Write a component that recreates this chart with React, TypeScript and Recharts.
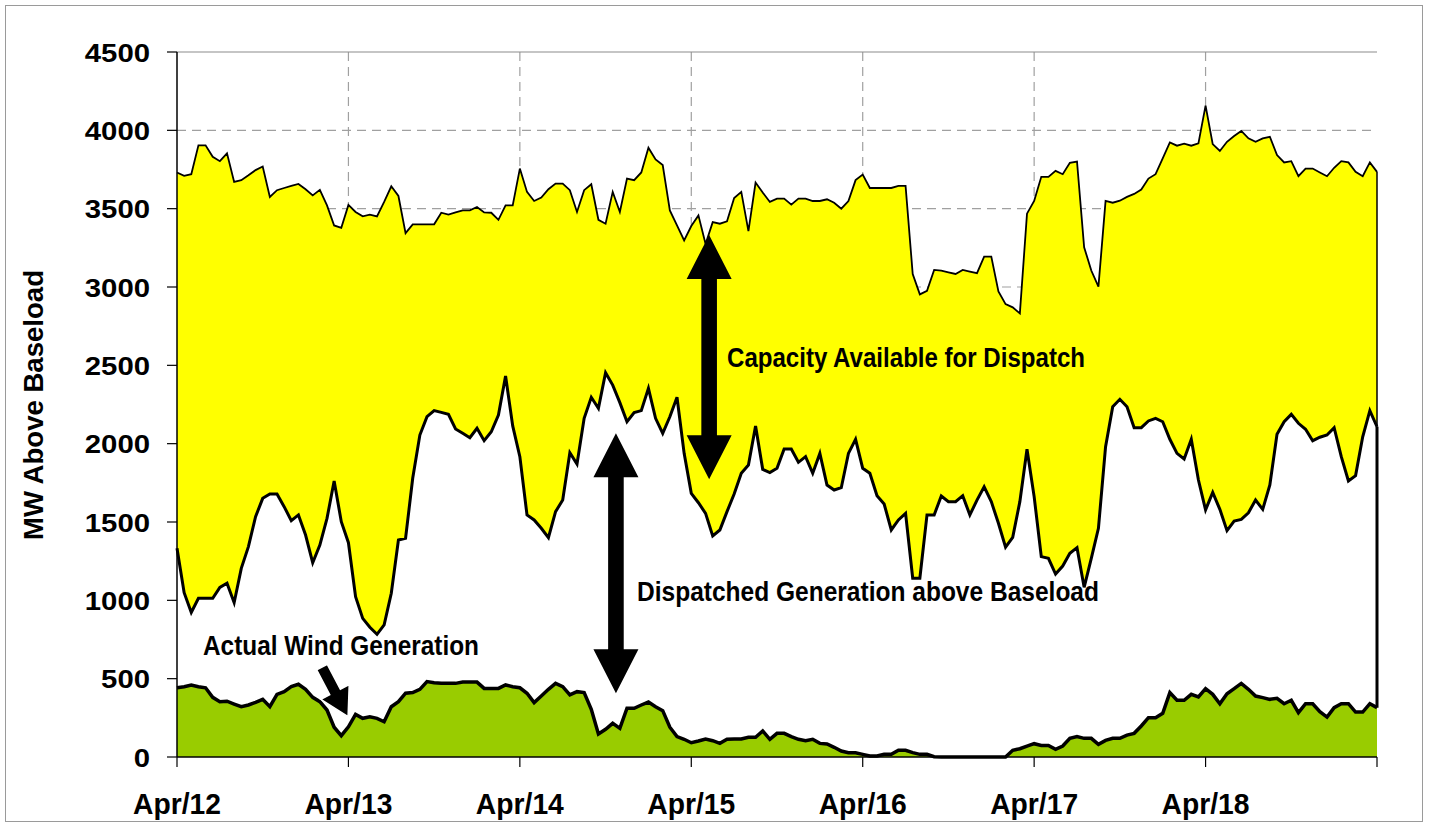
import React from "react";
import {
  AreaChart,
  Area,
  XAxis,
  YAxis,
  CartesianGrid,
  ReferenceLine,
} from "recharts";

// Hourly values, Apr 12 00:00 (hour 0) to Apr 19 00:00 (hour 168)
const capacityMW: number[] = [
  3731, 3709, 3720, 3904, 3904, 3831, 3803, 3853, 3671, 3682,
  3713, 3746, 3769, 3575, 3618, 3632, 3645, 3658, 3624, 3585,
  3620, 3521, 3393, 3378, 3524, 3479, 3451, 3462, 3451, 3543,
  3643, 3581, 3344, 3400, 3400, 3400, 3400, 3474, 3462, 3476,
  3489, 3489, 3511, 3476, 3474, 3429, 3521, 3521, 3756, 3607,
  3549, 3571, 3624, 3660, 3660, 3618, 3479, 3618, 3656, 3429,
  3404, 3607, 3479, 3692, 3682, 3731, 3889, 3814, 3778, 3489,
  3393, 3297, 3389, 3457, 3275, 3414, 3404, 3419, 3568, 3607,
  3357, 3667, 3603, 3543, 3564, 3564, 3526, 3564, 3564, 3549,
  3549, 3560, 3538, 3500, 3549, 3682, 3718, 3632, 3632, 3632,
  3632, 3645, 3645, 3083, 2953, 2976, 3109, 3105, 3094, 3083,
  3109, 3098, 3088, 3194, 3194, 2972, 2891, 2870, 2831, 3468,
  3549, 3703, 3703, 3741, 3720, 3793, 3801, 3254, 3105, 3002,
  3549, 3538, 3551, 3575, 3594, 3622, 3692, 3720, 3821, 3923,
  3902, 3915, 3902, 3917, 4158, 3912, 3868, 3927, 3964, 3996,
  3949, 3927, 3949, 3959, 3842, 3795, 3803, 3707, 3756, 3756,
  3731, 3707, 3761, 3803, 3795, 3735, 3707, 3795, 3735,
];

const dispatchedMW: number[] = [
  1332, 1049, 923, 1013, 1013, 1013, 1083, 1109, 985, 1204,
  1343, 1534, 1651, 1679, 1679, 1598, 1508, 1545, 1417, 1240,
  1353, 1523, 1762, 1502, 1368, 1023, 885, 828, 783, 843,
  1045, 1385, 1396, 1779, 2055, 2172, 2211, 2200, 2187, 2094,
  2066, 2038, 2098, 2019, 2076, 2183, 2432, 2113, 1917, 1545,
  1513, 1460, 1400, 1566, 1640, 1942, 1870, 2162, 2296, 2226,
  2453, 2374, 2262, 2140, 2198, 2211, 2353, 2162, 2066, 2172,
  2296, 1938, 1683, 1623, 1555, 1411, 1449, 1566, 1679, 1811,
  1864, 2113, 1836, 1815, 1843, 1966, 1966, 1881, 1917, 1811,
  1938, 1736, 1704, 1719, 1938, 2028, 1843, 1811, 1668, 1615,
  1449, 1513, 1555, 1141, 1141, 1545, 1545, 1666, 1630, 1630,
  1668, 1545, 1640, 1725, 1630, 1492, 1339, 1402, 1630, 1964,
  1662, 1279, 1268, 1168, 1219, 1300, 1336, 1083, 1268, 1460,
  1981, 2236, 2283, 2236, 2102, 2102, 2145, 2162, 2140, 2028,
  1938, 1902, 2028, 1768, 1577, 1689, 1581, 1445, 1506, 1517,
  1559, 1640, 1581, 1736, 2060, 2140, 2187, 2130, 2092, 2019,
  2041, 2055, 2102, 1917, 1762, 1796, 2044, 2211, 2108,
];

const windMW: number[] = [
  442, 449, 460, 449, 442, 381, 353, 356, 338, 321,
  332, 349, 368, 321, 400, 417, 449, 464, 432, 381,
  353, 300, 190, 136, 193, 272, 247, 256, 247, 225,
  321, 353, 407, 411, 432, 481, 474, 470, 470, 470,
  478, 478, 478, 438, 438, 438, 460, 449, 442, 407,
  347, 389, 432, 470, 449, 396, 417, 411, 304, 147,
  177, 215, 183, 311, 311, 332, 351, 321, 296, 190,
  130, 113, 91, 102, 115, 104, 87, 113, 115, 115,
  126, 126, 166, 113, 151, 151, 130, 113, 104, 113,
  87, 83, 62, 38, 27, 27, 17, 6, 6, 17,
  17, 43, 43, 28, 17, 17, 2, 0, 0, 0,
  0, 0, 0, 0, 0, 0, 0, 43, 53, 70,
  85, 74, 74, 49, 70, 119, 130, 119, 119, 81,
  106, 119, 119, 140, 151, 198, 251, 251, 279, 411,
  362, 362, 400, 383, 436, 400, 340, 404, 436, 470,
  432, 389, 379, 368, 375, 340, 362, 283, 340, 340,
  289, 255, 315, 340, 340, 287, 287, 340, 315,
];

const dayTicks: number[] = [0, 24, 48, 72, 96, 120, 144, 168];
const dayLabels: string[] = ["Apr/12", "Apr/13", "Apr/14", "Apr/15", "Apr/16", "Apr/17", "Apr/18", ""];
const yTicks: number[] = [0, 500, 1000, 1500, 2000, 2500, 3000, 3500, 4000, 4500];
const gridY: number[] = [500, 1000, 1500, 2000, 2500, 3000, 3500, 4000];
const gridX: number[] = [24, 48, 72, 96, 120, 144];

const data = capacityMW.map((c, i) => ({
  h: i,
  cap: c,
  disp: dispatchedMW[i],
  wind: windMW[i],
}));

const last = data.length - 1;

// Chart geometry
const W = 1430;
const H = 827;
const PLOT_L = 177;
const PLOT_R = 1377;
const PLOT_T = 52;
const PLOT_B = 757;
const X_MAX = 168;
const Y_MAX = 4500;
const px = (h: number) => PLOT_L + (h / X_MAX) * (PLOT_R - PLOT_L);
const py = (v: number) => PLOT_B - (v / Y_MAX) * (PLOT_B - PLOT_T);

const NARROW = "'Liberation Sans Narrow','Arial Narrow','Liberation Sans',Arial,sans-serif";
const WIDE = "'Liberation Sans',Arial,Helvetica,sans-serif";

const XTick = (props: any) => {
  const { x, y, payload } = props;
  const idx = dayTicks.indexOf(payload.value);
  const label = dayLabels[idx] ?? "";
  if (!label) return null;
  return (
    <text
      x={x}
      y={y}
      dy={45}
      textAnchor="middle"
      fontFamily={NARROW}
      fontWeight="bold"
      fontSize={30}
      fill="#000"
      textLength={88}
      lengthAdjust="spacingAndGlyphs"
    >
      {label}
    </text>
  );
};

const YTick = (props: any) => {
  const { x, y, payload } = props;
  const s = String(payload.value);
  return (
    <text
      x={x}
      y={y}
      dy={9.5}
      textAnchor="end"
      fontFamily={WIDE}
      fontWeight="bold"
      fontSize={26.5}
      fill="#000"
      textLength={s.length * 16.3}
      lengthAdjust="spacingAndGlyphs"
    >
      {s}
    </text>
  );
};

function vArrow(x: number, yTop: number, yBot: number) {
  const hl = 44;
  const hw = 22.5;
  const sw = 7.8;
  const pts = [
    [x, yTop],
    [x + hw, yTop + hl],
    [x + sw, yTop + hl],
    [x + sw, yBot - hl],
    [x + hw, yBot - hl],
    [x, yBot],
    [x - hw, yBot - hl],
    [x - sw, yBot - hl],
    [x - sw, yTop + hl],
    [x - hw, yTop + hl],
  ];
  return pts.map((p) => p.join(",")).join(" ");
}

function dArrow(x1: number, y1: number, x2: number, y2: number) {
  const dx = x2 - x1;
  const dy = y2 - y1;
  const len = Math.sqrt(dx * dx + dy * dy);
  const ux = dx / len;
  const uy = dy / len;
  const nx = -uy;
  const ny = ux;
  const hl = 28;
  const hw = 16;
  const sw = 6;
  const bx = x2 - ux * hl;
  const by = y2 - uy * hl;
  const pts = [
    [x1 + nx * sw, y1 + ny * sw],
    [bx + nx * sw, by + ny * sw],
    [bx + nx * hw, by + ny * hw],
    [x2, y2],
    [bx - nx * hw, by - ny * hw],
    [bx - nx * sw, by - ny * sw],
    [x1 - nx * sw, y1 - ny * sw],
  ];
  return pts.map((p) => p.join(",")).join(" ");
}

// Annotation anchors in data space (hour, MW)
const capArrow = { h: 74.5, top: 3332, bot: 1773 };
const dispArrow = { h: 61.45, top: 2066, bot: 407 };
const windArrow = { h1: 20.3, v1: 574, h2: 23.95, v2: 257 };

export default function App() {
  return (
    <div
      style={{
        position: "absolute",
        left: 0,
        top: 0,
        width: W,
        height: H,
        background: "#fff",
        overflow: "hidden",
      }}
    >
      <div
        style={{
          position: "absolute",
          left: 5,
          top: 5,
          width: 1418,
          height: 817,
          border: "1px solid #9a9a9a",
          boxSizing: "border-box",
        }}
      />
      <div style={{ position: "absolute", left: 0, top: 0 }}>
        <AreaChart
          width={W}
          height={H}
          data={data}
          margin={{ top: PLOT_T, right: W - PLOT_R, left: 0, bottom: 0 }}
        >
          <CartesianGrid
            stroke="#a0a0a0"
            strokeDasharray="9 6"
            strokeWidth={1.2}
            horizontalValues={gridY}
            verticalValues={gridX}
          />
          <XAxis
            dataKey="h"
            type="number"
            domain={[0, X_MAX]}
            ticks={dayTicks}
            interval={0}
            height={H - PLOT_B}
            tickSize={10}
            tickMargin={2}
            axisLine={{ stroke: "#000", strokeWidth: 1.5 }}
            tickLine={{ stroke: "#000", strokeWidth: 1.2 }}
            tick={<XTick />}
          />
          <YAxis
            type="number"
            domain={[0, Y_MAX]}
            ticks={yTicks}
            interval={0}
            width={PLOT_L}
            tickSize={10}
            tickMargin={17}
            axisLine={{ stroke: "#000", strokeWidth: 1.5 }}
            tickLine={{ stroke: "#000", strokeWidth: 1.2 }}
            tick={<YTick />}
          />
          <ReferenceLine y={Y_MAX} stroke="#8c8c8c" strokeWidth={1.2} />
          <Area
            type="linear"
            dataKey="cap"
            stroke="#000"
            strokeWidth={1.8}
            fill="#ffff00"
            fillOpacity={1}
            dot={false}
            activeDot={false}
            isAnimationActive={false}
          />
          <Area
            type="linear"
            dataKey="disp"
            stroke="#000"
            strokeWidth={3}
            fill="#ffffff"
            fillOpacity={1}
            dot={false}
            activeDot={false}
            isAnimationActive={false}
          />
          <Area
            type="linear"
            dataKey="wind"
            stroke="#000"
            strokeWidth={3.5}
            fill="#99cc00"
            fillOpacity={1}
            dot={false}
            activeDot={false}
            isAnimationActive={false}
          />
          <ReferenceLine
            segment={[
              { x: X_MAX, y: data[last].disp },
              { x: X_MAX, y: data[last].cap },
            ]}
            stroke="#000"
            strokeWidth={1.5}
          />
          <ReferenceLine
            segment={[
              { x: X_MAX, y: data[last].wind },
              { x: X_MAX, y: data[last].disp },
            ]}
            stroke="#000"
            strokeWidth={3}
          />
        </AreaChart>
      </div>
      <svg
        width={W}
        height={H}
        style={{ position: "absolute", left: 0, top: 0, pointerEvents: "none" }}
      >
        <polygon points={vArrow(px(capArrow.h), py(capArrow.top), py(capArrow.bot))} fill="#000" />
        <polygon points={vArrow(px(dispArrow.h), py(dispArrow.top), py(dispArrow.bot))} fill="#000" />
        <polygon
          points={dArrow(px(windArrow.h1), py(windArrow.v1), px(windArrow.h2), py(windArrow.v2))}
          fill="#000"
          stroke="#fff"
          strokeWidth={1.5}
          strokeLinejoin="miter"
        />
        <text
          x={727}
          y={367}
          fontFamily={NARROW}
          fontWeight="bold"
          fontSize={28}
          textLength={358}
          lengthAdjust="spacingAndGlyphs"
        >
          Capacity Available for Dispatch
        </text>
        <text
          x={637}
          y={601}
          fontFamily={NARROW}
          fontWeight="bold"
          fontSize={28}
          textLength={462}
          lengthAdjust="spacingAndGlyphs"
        >
          Dispatched Generation above Baseload
        </text>
        <text
          x={203}
          y={655}
          fontFamily={NARROW}
          fontWeight="bold"
          fontSize={28}
          textLength={276}
          lengthAdjust="spacingAndGlyphs"
        >
          Actual Wind Generation
        </text>
        <text
          x={43}
          y={405}
          transform="rotate(-90 43 405)"
          textAnchor="middle"
          fontFamily={NARROW}
          fontWeight="bold"
          fontSize={27}
          textLength={270}
          lengthAdjust="spacingAndGlyphs"
        >
          MW Above Baseload
        </text>
      </svg>
    </div>
  );
}
